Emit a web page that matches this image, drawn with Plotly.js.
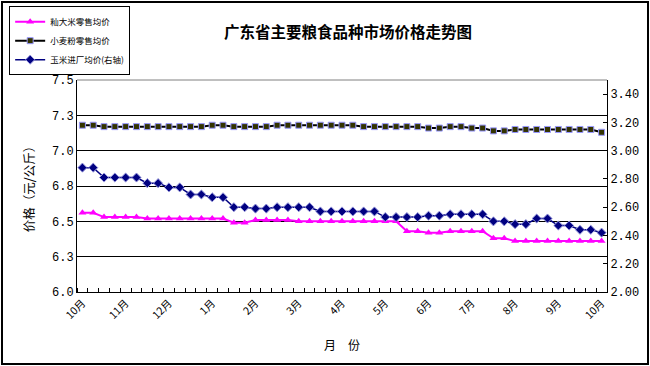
<!DOCTYPE html>
<html>
<head>
<meta charset="utf-8">
<script src="https://cdn.plot.ly/plotly-3.0.1.min.js"></script>
<style>
  html, body { margin: 0; padding: 0; background: #fff; }
  #wrap { position: relative; width: 650px; height: 366px; }
  #chart { width: 650px; height: 366px; }
  #frame { position: absolute; left: 1px; top: 1px; width: 648px; height: 364px;
           border: 2px solid #000; box-sizing: border-box; pointer-events: none; }
</style>
</head>
<body>
<div id="wrap"><div id="chart"></div><div id="frame"></div></div>
<script>
// Month tick labels (one every 4 weekly observations)
const monthLabels = ['10月','11月','12月','1月','2月','3月','4月','5月','6月','7月','8月','9月','10月'];
const labelStep = 4;

// Series (weekly observations)
const riceName = '籼大米零售均价';
const rice = [6.56,6.56,6.53,6.53,6.53,6.53,6.52,6.52,6.52,6.52,6.52,6.52,6.52,6.52,
  6.49,6.49,6.51,6.51,6.51,6.51,6.50,6.50,6.50,6.50,6.50,6.50,6.50,6.50,6.50,6.50,
  6.43,6.43,6.42,6.42,6.43,6.43,6.43,6.43,6.38,6.38,
  6.36,6.36,6.36,6.36,6.36,6.36,6.36,6.36,6.36];

const wheatName = '小麦粉零售均价';
const wheat = [7.18,7.18,7.17,7.17,7.17,7.17,7.17,7.17,7.17,7.17,7.17,7.17,7.18,7.18,
  7.17,7.17,7.17,7.17,7.18,7.18,7.18,7.18,7.18,7.18,7.18,7.18,
  7.17,7.17,7.17,7.17,7.17,7.17,7.16,7.16,7.17,7.17,7.16,7.16,7.14,7.14,
  7.15,7.15,7.15,7.15,7.15,7.15,7.15,7.15,7.13];

const cornName = '玉米进厂均价(右轴)';
const corn = [2.88,2.88,2.81,2.81,2.81,2.81,2.77,2.77,2.74,2.74,2.69,2.69,2.67,2.67,
  2.60,2.60,2.59,2.59,2.60,2.60,2.60,2.60,2.57,2.57,2.57,2.57,2.57,2.57,
  2.53,2.53,2.53,2.53,2.54,2.54,2.55,2.55,2.55,2.55,2.50,2.50,2.48,2.48,
  2.52,2.52,2.47,2.47,2.44,2.44,2.42];

const xIdx = rice.map((_, i) => i);
const tickVals = monthLabels.map((_, i) => i * labelStep);

const cjk = '"Noto Sans CJK SC", "Noto Sans", sans-serif';
const num = '"Liberation Mono", "DejaVu Sans Mono", monospace';

const traces = [
  { x: xIdx, y: rice, name: riceName, type: 'scatter', mode: 'lines+markers',
    line: { color: '#FF00FF', width: 2 },
    marker: { symbol: 'triangle-up', size: 7, color: '#FF00FF' } },
  { x: xIdx, y: wheat, name: wheatName, type: 'scatter', mode: 'lines+markers',
    line: { color: '#000000', width: 2 },
    marker: { symbol: 'square', size: 6, color: '#333300', line: { color: '#9999FF', width: 1 } } },
  { x: xIdx, y: corn, name: cornName, type: 'scatter', mode: 'lines+markers', yaxis: 'y2',
    line: { color: '#000080', width: 1.5 },
    marker: { symbol: 'diamond', size: 7, color: '#000080', line: { color: '#9999DD', width: 1 } } }
];

const layout = {
  width: 650, height: 366,
  margin: { l: 77, r: 43, t: 80, b: 73.5, autoexpand: false },
  paper_bgcolor: '#ffffff', plot_bgcolor: '#ffffff',
  showlegend: true,
  title: { text: '<b>广东省主要粮食品种市场价格走势图</b>', x: 348/650, xanchor: 'center',
           y: 1 - 33/366, yanchor: 'middle', font: { family: cjk, size: 15.5, color: '#000' } },
  legend: { x: -0.128, y: (292.5 - 6) / 212.5, xanchor: 'left', yanchor: 'top',
            bordercolor: '#000', borderwidth: 1, bgcolor: '#fff',
            font: { family: cjk, size: 8.5, color: '#000' },
            tracegroupgap: 0, itemwidth: 30 },
  xaxis: {
    range: [-0.5, 48.5], tickmode: 'array', tickvals: tickVals, ticktext: monthLabels,
    tickangle: -45, ticks: '', showgrid: false, zeroline: false,
    showline: true, linecolor: '#000', linewidth: 1,
    tickfont: { family: cjk, size: 10.5, color: '#000' },
    minor: { tick0: -0.5, dtick: 1, ticks: 'inside', ticklen: 4, tickcolor: '#000', showgrid: false },
    title: { text: '月　份', font: { family: cjk, size: 12, color: '#000' }, standoff: 20 }
  },
  yaxis: {
    range: [6.0, 7.5], tickmode: 'linear', tick0: 6.0, dtick: 0.25, tickformat: '.1f',
    showgrid: true, gridcolor: '#000', gridwidth: 1, zeroline: false,
    showline: true, linecolor: '#000', linewidth: 1, ticks: '',
    tickfont: { family: num, size: 12, color: '#000' },
    title: { text: '价格（元/公斤）', font: { family: cjk, size: 12.5, color: '#000' }, standoff: 14 }
  },
  yaxis2: {
    overlaying: 'y', side: 'right', range: [2.0, 3.5],
    tickmode: 'array', tickvals: [2.0, 2.2, 2.4, 2.6, 2.8, 3.0, 3.2, 3.4], tickformat: '.2f',
    showgrid: false, zeroline: false, showline: true, linecolor: '#000', linewidth: 1,
    ticks: 'inside', ticklen: 4, tickcolor: '#000',
    tickfont: { family: num, size: 12, color: '#000' }
  },
  shapes: [
    { type: 'line', xref: 'paper', yref: 'paper', x0: 0, x1: 1, y0: 1, y1: 1,
      line: { color: '#808080', width: 1 } }
  ]
};

Plotly.newPlot('chart', traces, layout, { displayModeBar: false, staticPlot: true });
</script>
</body>
</html>
